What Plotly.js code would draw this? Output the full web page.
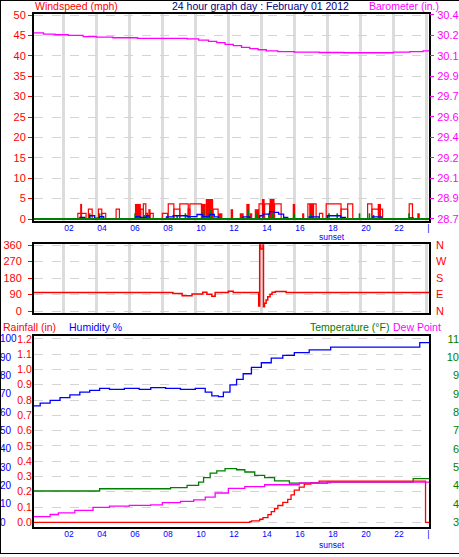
<!DOCTYPE html>
<html>
<head>
<meta charset="utf-8">
<script src="https://cdn.plot.ly/plotly-3.0.1.min.js"></script>
<style>html,body{margin:0;padding:0;background:#fff;}#chart{width:459px;height:557px;}</style>
</head>
<body>
<div id="chart"></div>
<script>
// ---------- x axis (hours) ----------
const hourTicks = [2,4,6,8,10,12,14,16,18,20,22,24];
const hourText  = ["02","04","06","08","10","12","14","16","18","20","22","|"];
const sunsetHour = 17.4;

// ---------- barometer (in.) ----------
const baroT = [0.2,0.8,1.5,2.3,3.2,4.0,5.0,6.5,8.0,9.5,10.2,10.8,11.3,11.8,12.3,12.8,13.3,13.8,14.3,15.0,16.0,17.5,19.0,21.0,22.0,23.0,23.8,24.2];
const baroV = [30.31,30.30,30.295,30.29,30.28,30.275,30.27,30.265,30.265,30.26,30.25,30.24,30.23,30.215,30.205,30.19,30.18,30.17,30.16,30.155,30.15,30.147,30.145,30.145,30.15,30.155,30.16,30.16];
const baroTickVals = [28.76,28.93,29.10,29.27,29.44,29.61,29.78,29.95,30.12,30.29,30.46];
const baroTickText = ["28.7","28.9","29.1","29.2","29.4","29.6","29.7","29.9","30.1","30.2","30.4"];

// ---------- wind gusts (mph) : open boxes ----------
const gustOpenStart = [2.88,3.52,4.13,4.33,5.20,6.70,6.85,7.00,7.25,8.00,8.36,8.70,9.06,9.57,9.67,11.08,13.86,14.20,14.80,16.82,17.52,17.93,18.83,19.23,20.44,20.70,22.96];
const gustOpenEnd   = [3.38,3.75,4.33,4.57,5.40,6.85,7.00,7.10,7.45,8.32,8.70,9.06,9.57,9.67,10.37,11.38,14.10,14.50,15.20,17.32,17.72,18.83,19.23,19.54,20.70,21.35,23.16];
const gustOpenMph   = [1.4,2.4,2.4,1.4,2.4,2.4,3.7,1.4,1.4,1.4,3.7,2.4,3.7,2.4,3.7,2.4,3.7,3.7,3.7,3.7,1.4,3.7,2.4,3.7,3.7,2.4,3.7];
// ---------- wind gusts (mph) : filled bars ----------
const gustFillStart = [3.02,6.34,7.15,10.37,10.63,11.38,12.14,12.69,13.09,13.29,13.60,14.04,14.50,15.90,16.47,16.90,21.05,23.45];
const gustFillEnd   = [3.14,6.70,7.29,10.63,11.08,11.64,12.29,12.93,13.29,13.45,13.86,14.20,14.80,16.05,16.60,17.20,21.25,23.60];
const gustFillMph   = [3.7,3.7,2.4,3.7,4.9,1.4,2.4,1.4,3.7,1.4,2.4,4.9,4.9,3.7,1.4,3.7,3.7,1.4];
// ---------- green wind bars (mph) ----------
const greenBarT = [3.6,4.2,6.35,6.9,8.9,9.4,10.5,10.9,13.2,13.7,14.45,14.7,16.0,17.0,18.1,18.6,19.95,20.55,20.8,22.95];
const greenBarV = [1.4,1.4,1.4,1.0,1.0,1.4,2.4,2.4,2.4,1.4,1.4,1.4,1.4,1.4,1.4,1.4,1.4,1.4,1.0,1.4];
const greenBaseT = [0,24.3];
const greenBaseV = [0,0];
// ---------- average wind (mph) ----------
const windAvgT = [0,3.0,3.3,3.6,3.9,4.2,4.45,6.4,6.65,6.75,7.05,7.2,8.25,8.65,9.5,10.1,10.45,10.85,11.15,11.4,12.9,13.3,13.9,14.1,14.5,14.75,15.05,15.35,15.6,16.9,17.5,18.0,18.8,19.1,20.75,21.3,23.0,23.2,24.3];
const windAvgV = [0,0.4,0,0.8,0.2,0.6,0,0.6,0.3,0.4,0.8,0,0.5,0.8,0.6,1.1,0.6,1.1,0.5,0,0.5,0,0.8,1.2,1.8,1.6,1.2,0.4,0,0.5,0,0.8,0.4,0,0.5,0,0.3,0,0];

// ---------- wind direction (deg) ----------
const windDirT = [0.2,8.64,9.2,9.8,10.45,10.7,11.0,11.2,12.0,12.3,13.84,13.9,13.96,14.1,14.13,14.19,14.29,14.39,14.53,14.65,14.85,15.5,24.2];
const windDirV = [101,96,83,93,102,91,80,101,108,101,27,360,338,360,23,42,60,78,91,102,107,101,101];
const dirTicks = [0,90,180,270,360];
const dirText  = ["N","E","S","W","N"];

// ---------- humidity (%) ----------
const humT = [0.2,0.6,1.2,1.8,2.4,3.0,3.6,4.2,4.8,5.7,6.6,7.3,8.2,9.1,10.0,10.6,11.0,11.4,11.7,12.1,12.5,12.9,13.4,14.0,14.6,15.3,16.0,16.9,18.2,23.6,24.2];
const humV = [63.5,65,66.5,68,69.5,71,72,73,72.5,73,72.5,73.5,73,72.5,73,71,69,68.5,71,75,78,81,84.5,87,89.5,91,92.5,94,95.5,98,98];
// ---------- temperature and dew point ----------
const tempT = [0.2,4.2,8.5,9.5,10.2,10.5,10.9,11.3,11.8,12.5,13.0,13.6,14.2,14.8,15.7,18.0,23.2,24.2];
const tempV = [4.7,4.8,4.85,4.95,5.1,5.3,5.5,5.6,5.7,5.65,5.55,5.4,5.3,5.15,5.05,5.1,5.25,5.25];
const dewT = [0.2,1.2,1.7,2.7,3.8,4.8,6.0,7.3,8.0,9.1,9.9,10.6,11.2,12.0,13.0,14.2,16.3,18.2,23.6,24.2];
const dewV = [3.55,3.65,3.72,3.83,3.97,4.02,4.06,4.08,4.18,4.24,4.30,4.43,4.61,4.82,4.90,4.98,5.06,5.10,5.10,5.10];
const tempTickText = ["3","4","4","5","6","7","8","9","9","10","11"];
const tempTickStart = 3.3, tempTickStep = 0.82;
// ---------- rainfall (in) ----------
const rainT = [0.2,13.3,13.4,13.9,14.1,14.4,14.6,14.8,15.0,15.3,15.6,15.8,16.0,16.3,16.6,17.0,17.5,23.95,24.3];
const rainV = [0,0.005,0.01,0.02,0.03,0.05,0.07,0.09,0.11,0.13,0.15,0.18,0.21,0.23,0.25,0.26,0.27,0,0];

// ---------- helpers ----------
const W = 459, H = 557;
const px = x => x / W;
const py = y => 1 - y / H;
const mid = (s, e) => s.map((v, i) => (v + e[i]) / 2);
const wid = (s, e) => s.map((v, i) => e[i] - v);

const FONT = 'Liberation Sans, Arial, sans-serif';
const RED = '#ff0000', MAG = '#ff00ff', BLUE = '#0000ff', GREEN = '#008000', NAVY = '#000080';

const traces = [
  // top panel
  {type:'scatter', x:baroT, y:baroV, xaxis:'x', yaxis:'y2', mode:'lines', line:{color:MAG, width:1.3, shape:'hv'}, hoverinfo:'skip'},
  {type:'bar', x:mid(gustOpenStart,gustOpenEnd), y:gustOpenMph, width:wid(gustOpenStart,gustOpenEnd), xaxis:'x', yaxis:'y',
   marker:{color:'rgba(0,0,0,0)', line:{color:RED, width:1.2}}, hoverinfo:'skip'},
  {type:'bar', x:mid(gustFillStart,gustFillEnd), y:gustFillMph, width:wid(gustFillStart,gustFillEnd), xaxis:'x', yaxis:'y',
   marker:{color:RED, line:{width:0}}, hoverinfo:'skip'},
  {type:'bar', x:greenBarT, y:greenBarV, width:greenBarT.map(() => 0.1), xaxis:'x', yaxis:'y',
   marker:{color:GREEN, line:{width:0}}, hoverinfo:'skip'},
  {type:'scatter', x:windAvgT, y:windAvgV, xaxis:'x', yaxis:'y', mode:'lines', line:{color:BLUE, width:1.3, shape:'hv'}, hoverinfo:'skip'},
  {type:'scatter', x:greenBaseT, y:greenBaseV, xaxis:'x', yaxis:'y', mode:'lines', line:{color:GREEN, width:2}, hoverinfo:'skip'},
  // middle panel
  {type:'scatter', x:windDirT, y:windDirV, xaxis:'x2', yaxis:'y3', mode:'lines', line:{color:RED, width:1.5, shape:'hv'}, hoverinfo:'skip'},
  {type:'scatter', x:[], y:[], xaxis:'x2', yaxis:'y4', mode:'lines', hoverinfo:'skip'},
  // bottom panel
  {type:'scatter', x:humT, y:humV, xaxis:'x3', yaxis:'y6', mode:'lines', line:{color:BLUE, width:1.3, shape:'hv'}, hoverinfo:'skip'},
  {type:'scatter', x:tempT, y:tempV, xaxis:'x3', yaxis:'y7', mode:'lines', line:{color:GREEN, width:1.3, shape:'hv'}, hoverinfo:'skip'},
  {type:'scatter', x:dewT, y:dewV, xaxis:'x3', yaxis:'y7', mode:'lines', line:{color:MAG, width:1.3, shape:'hv'}, hoverinfo:'skip'},
  {type:'scatter', x:rainT, y:rainV, xaxis:'x3', yaxis:'y5', mode:'lines', line:{color:RED, width:1.3, shape:'hv'}, hoverinfo:'skip'}
];

const xDomain = [px(34), px(429)];
const xRange = [0.224, 24.16];
const boxLine = {showline:true, mirror:true, linecolor:'#000', linewidth:2};
const xBase = Object.assign({domain:xDomain, range:xRange, tickvals:hourTicks, ticktext:hourText, ticks:'',
  ticklabelposition:'outside right', ticklabelstandoff:-2, tickfont:{family:FONT, size:8.5, color:BLUE}, zeroline:false, fixedrange:true}, boxLine);
const dashGrid = {showgrid:true, gridcolor:'#d4d4d4', griddash:'dash', gridwidth:1};

const layout = {
  width:W, height:H, margin:{l:0, r:0, t:0, b:0}, paper_bgcolor:'#fff', plot_bgcolor:'#fff',
  showlegend:false, barmode:'overlay', font:{family:FONT, size:11},
  xaxis: Object.assign({}, xBase, {anchor:'y', showgrid:true, gridcolor:'#dcdcdc', gridwidth:3}),
  xaxis2: Object.assign({}, xBase, {anchor:'y3', showgrid:true, gridcolor:'#dcdcdc', gridwidth:3, showticklabels:false}),
  xaxis3: Object.assign({}, xBase, {anchor:'y5', showgrid:false}),
  yaxis: Object.assign({domain:[py(221), py(14)], range:[-0.49, 50.25], anchor:'x', dtick:5, tick0:0,
    ticks:'outside', ticklen:4, tickcolor:RED, tickfont:{family:FONT, size:11, color:RED}, zeroline:false}, dashGrid, boxLine),
  yaxis2: {overlaying:'y', side:'right', anchor:'x', range:[28.743, 30.468],
    tickvals: baroTickVals, ticktext: baroTickText, ticks:'outside', ticklen:4, tickcolor:MAG, ticklabelstandoff:1,
    tickfont:{family:FONT, size:11, color:MAG}, showgrid:false, zeroline:false, showline:false},
  yaxis3: Object.assign({domain:[py(313), py(244)], range:[-10.9, 365.5], anchor:'x2', tickvals:dirTicks,
    ticks:'outside', ticklen:4, tickcolor:RED, ticklabelstandoff:4, tickfont:{family:FONT, size:11, color:RED}, zeroline:false}, dashGrid, boxLine),
  yaxis4: {overlaying:'y3', side:'right', anchor:'x2', range:[-10.9, 365.5], tickvals:dirTicks, ticktext:dirText,
    ticks:'', ticklabelstandoff:6, tickfont:{family:FONT, size:11, color:RED}, showgrid:false, zeroline:false, showline:false},
  yaxis5: Object.assign({domain:[py(527), py(336)], range:[-0.0307, 1.219], anchor:'x3', dtick:0.1, tick0:0, tickformat:'.1f',
    ticks:'', ticklabelstandoff:-2, tickfont:{family:FONT, size:10.5, color:RED}, zeroline:false}, dashGrid, boxLine),
  yaxis6: {overlaying:'y5', side:'right', anchor:'free', position:0, range:[-2.56, 101.6], dtick:10, tick0:0,
    ticks:'', ticklabelstandoff:-1, tickfont:{family:FONT, size:10, color:BLUE}, showgrid:false, zeroline:false, showline:false},
  yaxis7: {overlaying:'y5', side:'left', anchor:'free', position:1, range:[3.3 + 0.082*(-2.56), 3.3 + 0.082*101.6],
    tickvals: tempTickText.map((t, i) => tempTickStart + i*tempTickStep), ticktext: tempTickText,
    ticks:'', tickfont:{family:FONT, size:11, color:GREEN}, showgrid:false, zeroline:false, showline:false},
  annotations: [
    {text:'Windspeed (mph)', xref:'paper', yref:'paper', x:px(33), y:py(6), xanchor:'left', yanchor:'middle', showarrow:false, font:{family:FONT, size:10.5, color:RED}},
    {text:'24 hour graph day : February 01 2012', xref:'paper', yref:'paper', x:px(260), y:py(6), xanchor:'center', yanchor:'middle', showarrow:false, font:{family:FONT, size:10.5, color:NAVY}},
    {text:'Barometer (in.)', xref:'paper', yref:'paper', x:px(367), y:py(6), xanchor:'left', yanchor:'middle', showarrow:false, font:{family:FONT, size:10.5, color:MAG}},
    {text:'sunset', xref:'x', yref:'paper', x:sunsetHour, y:py(237.5), xanchor:'left', yanchor:'middle', showarrow:false, font:{family:FONT, size:8.5, color:BLUE}},
    {text:'sunset', xref:'x3', yref:'paper', x:sunsetHour, y:py(544.5), xanchor:'left', yanchor:'middle', showarrow:false, font:{family:FONT, size:8.5, color:BLUE}},
    {text:'Rainfall (in)', xref:'paper', yref:'paper', x:px(1), y:py(326.7), xanchor:'left', yanchor:'middle', showarrow:false, font:{family:FONT, size:10.5, color:RED}},
    {text:'Humidity %', xref:'paper', yref:'paper', x:px(67), y:py(326.7), xanchor:'left', yanchor:'middle', showarrow:false, font:{family:FONT, size:10.5, color:BLUE}},
    {text:'Temperature (°F)', xref:'paper', yref:'paper', x:px(391), y:py(326.7), xanchor:'right', yanchor:'middle', showarrow:false, font:{family:FONT, size:10.5, color:GREEN}},
    {text:'Dew Point', xref:'paper', yref:'paper', x:px(391), y:py(326.7), xanchor:'left', yanchor:'middle', showarrow:false, font:{family:FONT, size:10.5, color:MAG}}
  ],
  shapes: [
    {type:'line', xref:'paper', yref:'paper', x0:0, x1:1, y0:py(0.5), y1:py(0.5), line:{color:'#000', width:1}},
    {type:'line', xref:'paper', yref:'paper', x0:px(0.5), x1:px(0.5), y0:py(0), y1:py(554), line:{color:'#000', width:1}},
    {type:'line', xref:'paper', yref:'paper', x0:0, x1:1, y0:py(553.5), y1:py(553.5), line:{color:'#000', width:1}}
  ]
};

Plotly.newPlot('chart', traces, layout, {staticPlot:true, displayModeBar:false});
</script>
</body>
</html>
